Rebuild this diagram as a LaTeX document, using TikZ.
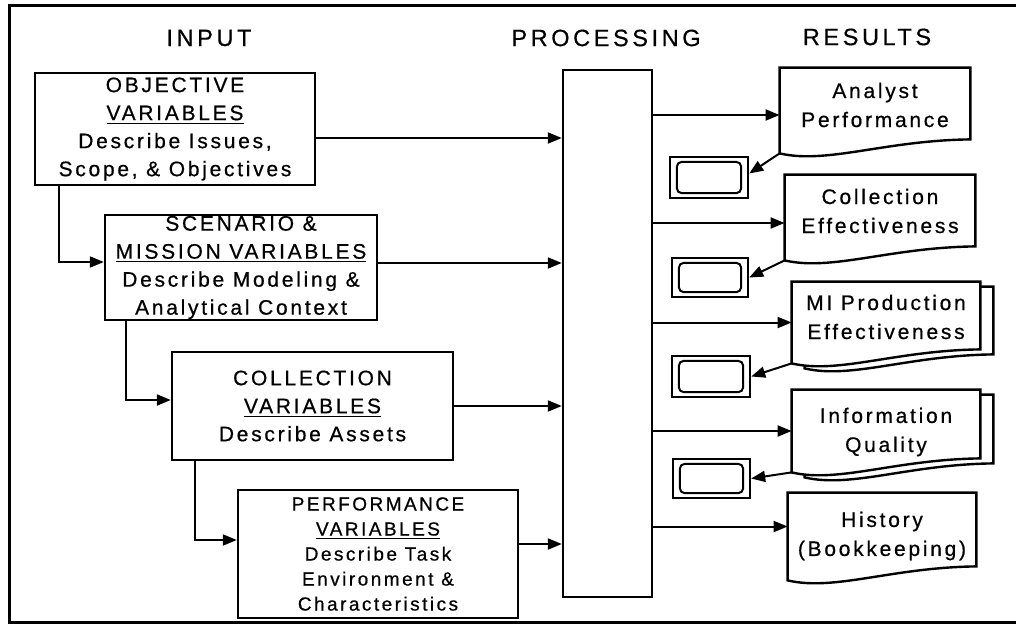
\documentclass[tikz,border=0pt]{standalone}
\usepackage{fontspec}
\setmainfont{Liberation Sans}[LetterSpace=13,FakeBold=0.6]
\newfontfamily\titlefont{Liberation Sans}[LetterSpace=15,FakeBold=0.4]
\usetikzlibrary{arrows.meta,calc}
% document-like outline with a wavy bottom: #1 node, #2 dx, #3 dy, #4 style
\newcommand\docshape[4]{%
  \draw[#4] ([shift={(#2,#3)}]#1.north west) -- ([shift={(#2,#3)}]#1.north east)
    -- ([shift={(#2,#3+7pt)}]#1.south east)
    .. controls ($(#1.south west)!0.55!(#1.south east)+(#2,#3+6.5pt)$)
       and ($(#1.south west)!0.25!(#1.south east)+(#2,#3-5.5pt)$)
    .. ([shift={(#2,#3)}]#1.south west) -- cycle;}
\newcommand\smallinner[1]{%
  \draw[line width=1pt, rounded corners=2.5pt]
    ([shift={(4pt,-3pt)}]#1.north west) rectangle ([shift={(-4pt,3pt)}]#1.south east);}
\tikzset{
  box/.style={draw, line width=1.2pt, align=center, inner sep=0pt,
    font={\fontsize{10.5}{14}\selectfont}},
  smallfont/.style={font={\fontsize{9.5}{12.5}\selectfont}},
  docarea/.style={inner sep=0pt},
  doctext/.style={align=center, inner sep=0pt, font={\fontsize{10.5}{14.5}\selectfont}},
  title/.style={inner sep=0pt, font={\titlefont\fontsize{11.8}{14}\selectfont}},
  sbox/.style={draw, line width=1.2pt, inner sep=0pt},
  arr/.style={line width=1pt, -{Triangle[length=7pt,width=5.5pt]}},
  outline/.style={line width=1.2pt, fill=white}
}
\begin{document}
\begin{tikzpicture}[x=0.5pt,y=-0.5pt]
\useasboundingbox (0,0) rectangle (1016,626);
% frame
\draw[line width=1.5pt] (1016,6) -- (9,6) -- (9,622) -- (1016,622);
% titles
\node[title] (tin) at (209,38) {INPUT};
\node[title] (tproc) at (606,38) {PROCESSING};
\node[title] (tres) at (867,37) {RESULTS};
% input boxes
\node[box, minimum width=140pt, minimum height=56pt] (obj) at (175,129)
  {OBJECTIVE\\\underline{VARIABLES}\\Describe Issues,\\Scope, \& Objectives};
\node[box, minimum width=136pt, minimum height=52.5pt] (scen) at (241,267.5)
  {SCENARIO \&\\\underline{MISSION VARIABLES}\\Describe Modeling \&\\Analytical Context};
\node[box, minimum width=140.5pt, minimum height=54pt] (coll) at (312.5,406)
  {COLLECTION\\\underline{VARIABLES}\\Describe Assets};
\node[box, smallfont, minimum width=140pt, minimum height=64pt] (perf) at (378,554)
  {PERFORMANCE\\\underline{VARIABLES}\\Describe Task\\Environment \&\\Characteristics};
% processing
\node[box, minimum width=44.5pt, minimum height=263.5pt] (proc) at (607.5,333.5) {};
% result document areas
\node[docarea, minimum width=95pt, minimum height=42.5pt] (ap) at (875,110.5) {};
\node[docarea, minimum width=95pt, minimum height=42.5pt] (ce) at (880,217.5) {};
\node[docarea, minimum width=94pt, minimum height=40.5pt] (mi) at (886,322.5) {};
\node[docarea, minimum width=94pt, minimum height=41pt] (iq) at (886,431) {};
\node[docarea, minimum width=94pt, minimum height=43.5pt] (hi) at (882,536.5) {};
\docshape{ap}{0pt}{0pt}{outline}
\docshape{ce}{0pt}{0pt}{outline}
\docshape{mi}{6.5pt}{-2.5pt}{outline}
\docshape{mi}{0pt}{0pt}{outline}
\docshape{iq}{6.5pt}{-2.5pt}{outline}
\docshape{iq}{0pt}{0pt}{outline}
\docshape{hi}{0pt}{0pt}{outline}
\node[doctext] (apt) at (875,105) {Analyst\\Performance};
\node[doctext] (cet) at (880,211) {Collection\\Effectiveness};
\node[doctext] (mit) at (886,317) {MI Production\\Effectiveness};
\node[doctext] (iqt) at (886,432) {Information\\Quality};
\node[doctext] (hit) at (882,536) {History\\(Bookkeeping)};
% small boxes
\node[sbox, minimum width=39pt, minimum height=20.5pt] (sb1) at (709,177.5) {};
\node[sbox, minimum width=38pt, minimum height=19.5pt] (sb2) at (710,277.5) {};
\node[sbox, minimum width=39pt, minimum height=20.5pt] (sb3) at (711,376.5) {};
\node[sbox, minimum width=38.5pt, minimum height=19.5pt] (sb4) at (711.5,478.5) {};
\smallinner{sb1}\smallinner{sb2}\smallinner{sb3}\smallinner{sb4}
% input chain connectors
\draw[arr] ([xshift=12.5pt]obj.south west) |- ([yshift=2.75pt]scen.west);
\draw[arr] ([xshift=11pt]scen.south west) |- ([yshift=3pt]coll.west);
\draw[arr] ([xshift=12pt]coll.south west) |- ([yshift=7pt]perf.west);
% inputs to processing
\draw[arr] ([yshift=-4.5pt]obj.east) -- ([yshift=-4.5pt]obj.east -| proc.west);
\draw[arr] ([yshift=2.25pt]scen.east) -- ([yshift=2.25pt]scen.east -| proc.west);
\draw[arr] (coll.east) -- (coll.east -| proc.west);
\draw[arr] ([yshift=5pt]perf.east) -- ([yshift=5pt]perf.east -| proc.west);
% processing to results
\draw[arr] ([yshift=-2.25pt]ap.west -| proc.east) -- ([yshift=-2.25pt]ap.west);
\draw[arr] ([yshift=-2.75pt]ce.west -| proc.east) -- ([yshift=-2.75pt]ce.west);
\draw[arr] (mi.west -| proc.east) -- (mi.west);
\draw[arr] (iq.west -| proc.east) -- (iq.west);
\draw[arr] ([yshift=5pt]hi.west -| proc.east) -- ([yshift=5pt]hi.west);
% results to small boxes
\draw[arr] (ap.south west) -- ([yshift=2pt]sb1.east);
\draw[arr] (ce.south west) -- (sb2.east);
\draw[arr] (mi.south west) -- (sb3.east);
\draw[arr] (iq.south west) -- (sb4.east);
\end{tikzpicture}
\end{document}
